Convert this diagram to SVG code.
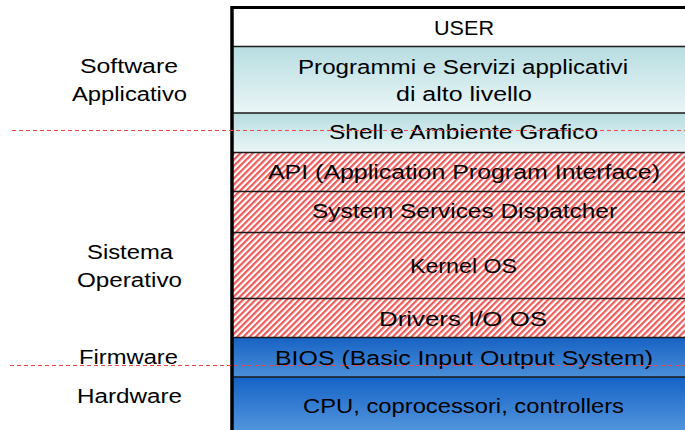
<svg xmlns="http://www.w3.org/2000/svg" width="685" height="430" viewBox="0 0 685 430">
<defs>
<linearGradient id="gTeal" x1="0" y1="0" x2="0" y2="1"><stop offset="0" stop-color="#b7dde1"/><stop offset="1" stop-color="#ebf6f7"/></linearGradient>
<linearGradient id="gBlue1" x1="0" y1="0" x2="0" y2="1"><stop offset="0" stop-color="#1762c4"/><stop offset="1" stop-color="#4a8fd8"/></linearGradient>
<linearGradient id="gBlue2" x1="0" y1="0" x2="0" y2="1"><stop offset="0" stop-color="#1462c6"/><stop offset="1" stop-color="#5a9be0"/></linearGradient>
<pattern id="hatch" width="4.4" height="4.4" patternUnits="userSpaceOnUse" patternTransform="rotate(45)">
<rect width="4.4" height="4.4" fill="#ffffff"/>
<rect width="2.2" height="4.4" fill="#f05a5a"/>
</pattern>
<style>
text{font-family:"Comic Sans MS","Liberation Sans","DejaVu Sans",sans-serif;font-size:20px;fill:#000;text-anchor:middle}
.sep{stroke:#1a1a1a;stroke-width:1.6}
.dash{stroke:#f04848;stroke-width:1.2;stroke-dasharray:4 3;fill:none}
</style>
</defs>
<rect width="685" height="430" fill="#ffffff"/>
<g id="user"><rect x="232" y="7" width="460" height="39.5" fill="#ffffff"/><text x="464" y="35" textLength="60" lengthAdjust="spacingAndGlyphs">USER</text></g>
<g id="programmi"><rect x="232" y="46.5" width="460" height="66.5" fill="url(#gTeal)"/><text x="463" y="74" textLength="330" lengthAdjust="spacingAndGlyphs">Programmi e Servizi applicativi</text><text x="464" y="101" textLength="136" lengthAdjust="spacingAndGlyphs">di alto livello</text></g>
<g id="shell"><rect x="232" y="113" width="460" height="39.5" fill="url(#gTeal)"/><text x="463.5" y="139" textLength="269" lengthAdjust="spacingAndGlyphs">Shell e Ambiente Grafico</text></g>
<g id="api"><rect x="232" y="152.5" width="460" height="39" fill="url(#hatch)"/><text x="464" y="179" textLength="392" lengthAdjust="spacingAndGlyphs">API (Application Program Interface)</text></g>
<g id="dispatcher"><rect x="232" y="191.5" width="460" height="41" fill="url(#hatch)"/><text x="464.5" y="218" textLength="305" lengthAdjust="spacingAndGlyphs">System Services Dispatcher</text></g>
<g id="kernel"><rect x="232" y="232.5" width="460" height="66" fill="url(#hatch)"/><text x="463.5" y="273" textLength="107" lengthAdjust="spacingAndGlyphs">Kernel OS</text></g>
<g id="drivers"><rect x="232" y="298.5" width="460" height="39" fill="url(#hatch)"/><text x="463" y="326" textLength="168" lengthAdjust="spacingAndGlyphs">Drivers I/O OS</text></g>
<g id="bios"><rect x="232" y="337.5" width="460" height="39.5" fill="url(#gBlue1)"/><text x="464" y="365" textLength="378" lengthAdjust="spacingAndGlyphs">BIOS (Basic Input Output System)</text></g>
<g id="cpu"><rect x="232" y="377" width="460" height="60" fill="url(#gBlue2)"/><text x="463.5" y="413" textLength="321" lengthAdjust="spacingAndGlyphs">CPU, coprocessori, controllers</text></g>
<g id="borders">
<line class="sep" x1="232" y1="46.5" x2="685" y2="46.5"/>
<line class="sep" x1="232" y1="113" x2="685" y2="113"/>
<line class="sep" x1="232" y1="152.5" x2="685" y2="152.5"/>
<line class="sep" x1="232" y1="191.5" x2="685" y2="191.5"/>
<line class="sep" x1="232" y1="232.5" x2="685" y2="232.5"/>
<line class="sep" x1="232" y1="298.5" x2="685" y2="298.5"/>
<line class="sep" x1="232" y1="337.5" x2="685" y2="337.5"/>
<line class="sep" x1="232" y1="377" x2="685" y2="377"/>
<line x1="231" y1="7.5" x2="685" y2="7.5" stroke="#000" stroke-width="3"/>
<line x1="232" y1="6" x2="232" y2="430" stroke="#000" stroke-width="3.5"/>
</g>
<g id="labels">
<text x="129" y="73" textLength="98" lengthAdjust="spacingAndGlyphs">Software</text>
<text x="129.5" y="101" textLength="115" lengthAdjust="spacingAndGlyphs">Applicativo</text>
<text x="130" y="259" textLength="86" lengthAdjust="spacingAndGlyphs">Sistema</text>
<text x="129.5" y="287" textLength="105" lengthAdjust="spacingAndGlyphs">Operativo</text>
<text x="128.5" y="364" textLength="99" lengthAdjust="spacingAndGlyphs">Firmware</text>
<text x="129.5" y="403" textLength="105" lengthAdjust="spacingAndGlyphs">Hardware</text>
</g>
<g id="connectors">
<line class="dash" x1="12" y1="130.5" x2="685" y2="130.5"/>
<line class="dash" x1="10" y1="365.5" x2="685" y2="365.5"/>
</g>
</svg>
